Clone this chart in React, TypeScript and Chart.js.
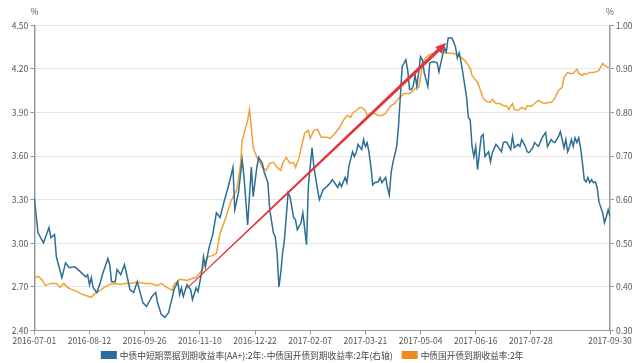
import React, { useEffect, useRef } from "react";
import { Chart, registerables } from "chart.js";

Chart.register(...registerables);

// ---- data ----
const xTickIndex = [0, 30, 60, 90, 120, 150, 180, 210, 240, 270, 313];
const xTickLabels = [
  "2016-07-01", "2016-08-12", "2016-09-26", "2016-11-10", "2016-12-22",
  "2017-02-07", "2017-03-21", "2017-05-04", "2017-06-16", "2017-07-28", "2017-09-30",
];
const leftTicks = [2.4, 2.7, 3.0, 3.3, 3.6, 3.9, 4.2, 4.5];
const rightTicks = [0.3, 0.4, 0.5, 0.6, 0.7, 0.8, 0.9, 1.0];

const spreadLabel = "中债中短期票据到期收益率(AA+):2年:-中债国开债到期收益率:2年(右轴)";
const cdbLabel = "中债国开债到期收益率:2年";

// [trading-day index, value]
const spreadSeries: [number, number][] = [
  [0,0.605],[2,0.524],[5,0.501],[6,0.513],[8,0.536],[9,0.513],[11,0.520],[12,0.469],[15,0.421],[17,0.455],
  [19,0.444],[22,0.446],[25,0.435],[28,0.423],[29,0.428],[30,0.405],[31,0.421],[32,0.398],[34,0.387],[36,0.412],
  [37,0.428],[40,0.465],[41,0.451],[42,0.412],[44,0.412],[45,0.440],[47,0.428],[49,0.451],[50,0.433],[52,0.394],
  [54,0.387],[56,0.412],[59,0.364],[61,0.355],[64,0.378],[66,0.387],[67,0.364],[69,0.337],[71,0.330],[73,0.341],
  [75,0.376],[76,0.394],[78,0.412],[79,0.382],[80,0.398],[81,0.378],[83,0.405],[85,0.394],[86,0.371],[88,0.398],
  [89,0.389],[91,0.433],[92,0.469],[93,0.446],[95,0.490],[97,0.520],[99,0.570],[101,0.559],[103,0.593],[105,0.623],
  [106,0.639],[108,0.674],[109,0.577],[111,0.616],[113,0.692],[114,0.653],[116,0.542],[118,0.675],[119,0.607],[121,0.675],
  [122,0.697],[124,0.683],[125,0.663],[127,0.639],[128,0.577],[130,0.524],[131,0.515],[132,0.478],[133,0.400],[134,0.432],
  [135,0.478],[136,0.508],[138,0.616],[139,0.607],[141,0.559],[142,0.554],[143,0.531],[145,0.547],[146,0.570],[148,0.497],
  [149,0.630],[150,0.676],[151,0.719],[152,0.676],[154,0.623],[155,0.600],[157,0.623],[159,0.630],[161,0.639],[162,0.646],
  [165,0.628],[166,0.639],[167,0.630],[169,0.651],[170,0.639],[171,0.676],[173,0.710],[174,0.699],[175,0.708],[176,0.727],
  [178,0.715],[179,0.738],[180,0.722],[181,0.731],[182,0.708],[183,0.676],[184,0.634],[185,0.639],[187,0.641],[188,0.651],
  [189,0.639],[191,0.651],[192,0.628],[193,0.611],[194,0.662],[195,0.685],[197,0.722],[198,0.768],[199,0.836],[200,0.905],
  [202,0.921],[203,0.898],[204,0.853],[205,0.853],[206,0.860],[207,0.887],[208,0.860],[210,0.928],[211,0.921],[212,0.891],
  [214,0.860],[215,0.914],[217,0.917],[219,0.914],[220,0.893],[222,0.932],[223,0.948],[224,0.939],[225,0.971],[227,0.971],
  [228,0.962],[229,0.950],[230,0.925],[231,0.937],[232,0.916],[233,0.891],[234,0.863],[235,0.836],[236,0.788],[237,0.783],
  [238,0.722],[239,0.699],[240,0.722],[241,0.669],[242,0.708],[243,0.745],[244,0.750],[245,0.699],[247,0.710],[248,0.687],
  [249,0.708],[251,0.727],[252,0.722],[254,0.710],[255,0.731],[256,0.733],[257,0.731],[259,0.715],[260,0.745],[261,0.719],
  [263,0.727],[264,0.722],[265,0.738],[267,0.722],[268,0.710],[269,0.708],[271,0.719],[272,0.731],[274,0.722],[275,0.731],
  [276,0.742],[278,0.754],[279,0.722],[281,0.738],[282,0.733],[283,0.731],[285,0.745],[286,0.756],[287,0.738],[288,0.719],
  [289,0.738],[290,0.710],[291,0.722],[292,0.738],[293,0.722],[294,0.742],[295,0.731],[296,0.742],[297,0.719],[298,0.685],
  [299,0.646],[300,0.641],[301,0.651],[302,0.639],[303,0.646],[304,0.639],[305,0.641],[306,0.628],[307,0.595],[309,0.570],
  [310,0.547],[311,0.561],[312,0.577],[313,0.561],
];

const cdbSeries: [number, number][] = [
  [0,2.765],[2,2.772],[4,2.752],[6,2.710],[9,2.724],[12,2.724],[14,2.697],[16,2.724],[18,2.697],[20,2.683],
  [23,2.669],[25,2.655],[28,2.641],[31,2.628],[33,2.655],[36,2.676],[38,2.697],[41,2.717],[44,2.724],[47,2.717],
  [49,2.724],[52,2.724],[55,2.731],[57,2.731],[60,2.724],[63,2.724],[67,2.710],[69,2.724],[72,2.697],[75,2.676],
  [76,2.717],[79,2.752],[83,2.745],[86,2.759],[88,2.765],[91,2.813],[94,2.903],[97,2.917],[99,2.930],[101,3.068],
  [104,3.172],[105,3.213],[107,3.295],[110,3.364],[112,3.522],[113,3.708],[116,3.846],[117,3.921],[118,3.797],[119,3.659],
  [121,3.591],[123,3.550],[124,3.522],[126,3.502],[128,3.550],[130,3.557],[132,3.522],[134,3.502],[135,3.550],[137,3.591],
  [139,3.550],[141,3.557],[142,3.522],[144,3.591],[145,3.653],[147,3.757],[149,3.777],[150,3.722],[152,3.777],[154,3.784],
  [156,3.729],[159,3.729],[161,3.722],[163,3.750],[166,3.798],[168,3.845],[170,3.880],[172,3.866],[173,3.894],[175,3.914],
  [177,3.935],[178,3.935],[180,3.914],[181,3.880],[184,3.894],[185,3.894],[187,3.880],[189,3.880],[191,3.894],[192,3.914],
  [194,3.948],[196,3.962],[198,3.997],[200,4.018],[201,4.031],[204,4.031],[205,4.038],[207,4.066],[209,4.073],[210,4.142],
  [211,4.245],[213,4.279],[215,4.300],[217,4.307],[218,4.314],[220,4.328],[222,4.314],[225,4.307],[228,4.307],[230,4.293],
  [232,4.279],[234,4.259],[236,4.224],[237,4.204],[238,4.155],[240,4.121],[241,4.107],[242,4.073],[243,4.038],[244,3.997],
  [246,3.976],[248,3.969],[249,3.990],[251,3.962],[253,3.962],[255,3.948],[257,3.942],[258,3.921],[260,3.962],[261,3.921],
  [263,3.914],[265,3.935],[267,3.921],[268,3.948],[270,3.942],[272,3.962],[274,3.983],[276,3.969],[278,3.962],[279,3.969],
  [281,3.969],[283,3.997],[285,4.052],[287,4.073],[288,4.142],[290,4.176],[291,4.169],[293,4.169],[295,4.197],[296,4.169],
  [298,4.155],[299,4.169],[300,4.162],[302,4.176],[304,4.176],[306,4.183],[307,4.190],[309,4.238],[310,4.224],[312,4.210],
  [313,4.204],
];

// annotation arrow (day index, left-axis value): start, tip
const arrowDay = [83, 224];
const arrowValue = [2.69, 4.38];

const BLUE = "#2c6f94";
const ORANGE = "#f0a234";
const RED = "#e3343b";
const FONT = "'Noto Sans CJK SC', 'Noto Sans', sans-serif";
const TXT = "#555";

const arrowPlugin = {
  id: "arrowPlugin",
  afterDatasetsDraw(chart: any) {
    const { ctx, scales } = chart;
    const x0 = scales.x.getPixelForValue(arrowDay[0]);
    const y0 = scales.y.getPixelForValue(arrowValue[0]);
    const x1 = scales.x.getPixelForValue(arrowDay[1]);
    const y1 = scales.y.getPixelForValue(arrowValue[1]);
    const dx = x1 - x0, dy = y1 - y0;
    const len = Math.hypot(dx, dy);
    const ux = dx / len, uy = dy / len;
    const nx = -uy, ny = ux;
    const headLen = 11, headW = 4.5;
    const bx = x1 - ux * headLen, by = y1 - uy * headLen;
    const w0 = 0.5, w1 = 1.7;
    ctx.save();
    ctx.fillStyle = RED;
    ctx.beginPath();
    ctx.moveTo(x0 + nx * w0, y0 + ny * w0);
    ctx.lineTo(bx + nx * w1, by + ny * w1);
    ctx.lineTo(bx + nx * headW, by + ny * headW);
    ctx.lineTo(x1, y1);
    ctx.lineTo(bx - nx * headW, by - ny * headW);
    ctx.lineTo(bx - nx * w1, by - ny * w1);
    ctx.lineTo(x0 - nx * w0, y0 - ny * w0);
    ctx.closePath();
    ctx.fill();
    ctx.restore();
  },
};

const decorPlugin = {
  id: "decorPlugin",
  afterDraw(chart: any) {
    const { ctx, chartArea } = chart;
    ctx.save();
    ctx.fillStyle = TXT;
    ctx.font = `8.5px ${FONT}`;
    ctx.textAlign = "center";
    ctx.textBaseline = "middle";
    ctx.fillText("%", chartArea.left, 12);
    ctx.fillText("%", chartArea.right, 12);

    // legend
    const items = chart.data.datasets.map((d: any) => ({ text: d.label, color: d.legendColor }));
    ctx.font = `8.7px ${FONT}`;
    const boxW = 16, boxH = 8, gapBox = 3, gapItem = 9;
    const widths = items.map((it: any) => boxW + gapBox + ctx.measureText(it.text).width);
    const total = widths.reduce((a: number, b: number) => a + b, 0) + gapItem * (items.length - 1);
    let x = (chartArea.left + chartArea.right) / 2 - total / 2 - 10;
    const y = 355;
    ctx.textAlign = "left";
    items.forEach((it: any, i: number) => {
      ctx.fillStyle = it.color;
      ctx.fillRect(x, y - boxH / 2, boxW, boxH);
      ctx.fillStyle = "#444";
      ctx.fillText(it.text, x + boxW + gapBox, y + 0.5);
      x += widths[i] + gapItem;
    });
    ctx.restore();
  },
};

export default function App() {
  const ref = useRef<HTMLCanvasElement | null>(null);
  useEffect(() => {
    if (!ref.current) return;
    const tickFont = { family: FONT, size: 8.5 };
    const chart = new Chart(ref.current, {
      type: "line",
      data: {
        datasets: [
          {
            label: spreadLabel,
            data: spreadSeries.map(([d, v]) => ({ x: d, y: v })),
            yAxisID: "y1",
            borderColor: BLUE,
            borderWidth: 1.5,
            pointRadius: 0,
            tension: 0,
            legendColor: "#2a6f9c",
          } as any,
          {
            label: cdbLabel,
            data: cdbSeries.map(([d, v]) => ({ x: d, y: v })),
            yAxisID: "y",
            borderColor: ORANGE,
            borderWidth: 1.5,
            pointRadius: 0,
            tension: 0,
            legendColor: "#f08c1e",
          } as any,
        ],
      },
      options: {
        responsive: false,
        animation: false,
        layout: { padding: { top: 25.3, left: 0, right: 0, bottom: 0 } },
        plugins: { legend: { display: false }, tooltip: { enabled: false } },
        scales: {
          x: {
            type: "linear",
            min: 0,
            max: 313,
            afterBuildTicks: (s: any) => {
              s.ticks = xTickIndex.map((v) => ({ value: v }));
            },
            afterFit: (s: any) => {
              s.height = 32.5;
            },
            ticks: {
              autoSkip: false,
              maxRotation: 0,
              minRotation: 0,
              padding: 1,
              color: TXT,
              font: tickFont,
              callback: (v: any) => {
                const i = xTickIndex.indexOf(Number(v));
                return i >= 0 ? xTickLabels[i] : "";
              },
            },
            grid: { drawOnChartArea: false, drawTicks: true, tickLength: 4, tickColor: "#999" },
            border: { color: "#999", width: 1 },
          },
          y: {
            position: "left",
            min: 2.4,
            max: 4.5,
            afterBuildTicks: (s: any) => {
              s.ticks = leftTicks.map((v) => ({ value: v }));
            },
            afterFit: (s: any) => {
              s.width = 34.3;
            },
            ticks: {
              color: TXT,
              font: tickFont,
              padding: 2,
              callback: (v: any) => Number(v).toFixed(2),
            },
            grid: { color: "#e6e6e6", lineWidth: 1, tickLength: 4, tickColor: "#999" },
            border: { color: "#999", width: 1.5 },
          },
          y1: {
            position: "right",
            min: 0.3,
            max: 1.0,
            afterBuildTicks: (s: any) => {
              s.ticks = rightTicks.map((v) => ({ value: v }));
            },
            afterFit: (s: any) => {
              s.width = 30;
            },
            ticks: {
              color: TXT,
              font: tickFont,
              padding: 2,
              callback: (v: any) => Number(v).toFixed(2),
            },
            grid: { drawOnChartArea: false, tickLength: 4, tickColor: "#999" },
            border: { color: "#999", width: 1.5 },
          },
        },
      },
      plugins: [arrowPlugin, decorPlugin],
    } as any);
    return () => chart.destroy();
  }, []);
  return (
    <div style={{ position: "absolute", left: 0, top: 0, width: 640, height: 363, background: "#fff" }}>
      <canvas ref={ref} width={640} height={363} style={{ display: "block" }} />
    </div>
  );
}
